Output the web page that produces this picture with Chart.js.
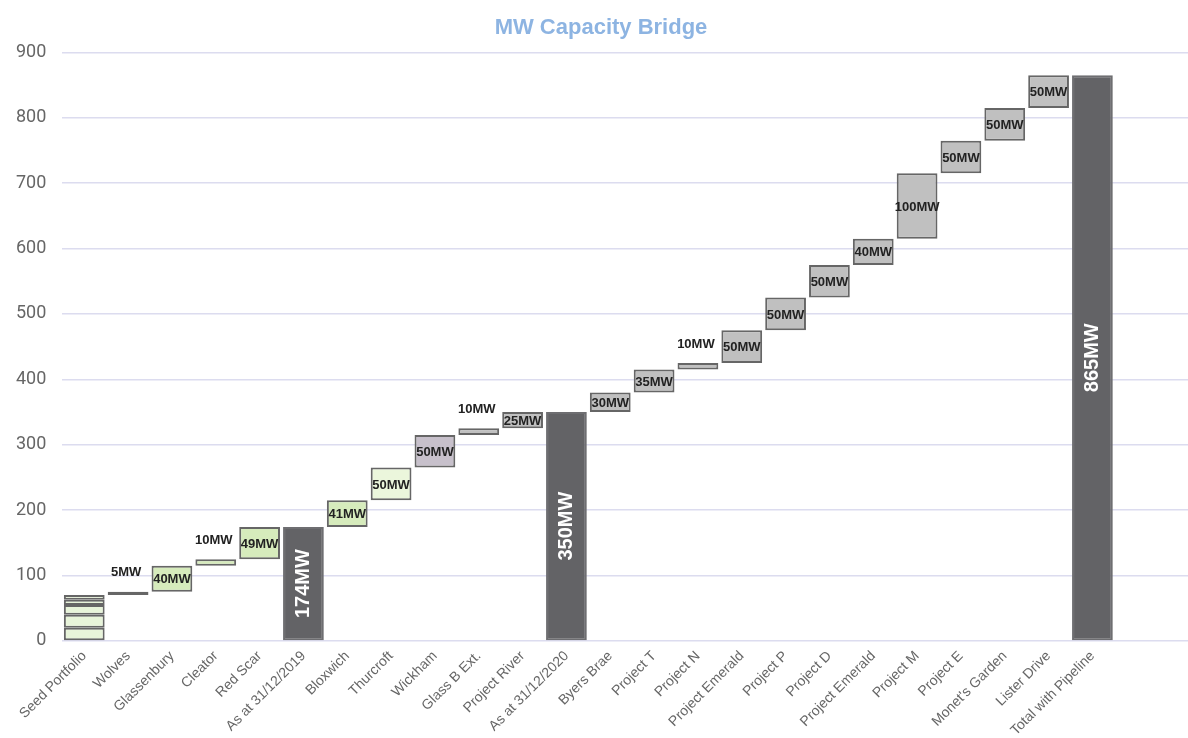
<!DOCTYPE html>
<html>
<head>
<meta charset="utf-8">
<title>MW Capacity Bridge</title>
<script src="https://cdn.jsdelivr.net/npm/chart.js@4/dist/chart.umd.min.js"></script>
<style>
  html, body { margin: 0; padding: 0; background: #fff; overflow: hidden; }
  #wrap { width: 1202px; height: 738px; }
</style>
</head>
<body>
<div id="wrap"><canvas id="myChart" width="1202" height="738"></canvas></div>
<script>
// categories of the bridge (two blank slots at the end, as in the original)
const categorias = [
  "Seed Portfolio", "Wolves", "Glassenbury", "Cleator", "Red Scar", "As at 31/12/2019",
  "Bloxwich", "Thurcroft", "Wickham", "Glass B Ext.", "Project River", "As at 31/12/2020",
  "Byers Brae", "Project T", "Project N", "Project Emerald", "Project P", "Project D",
  "Project Emerald", "Project M", "Project E", "Monet's Garden", "Lister Drive",
  "Total with Pipeline", "", ""
];
// MW added by each step, null = subtotal bar
const incrementos = [
  70, 5, 40, 10, 49, null,
  41, 50, 50, 10, 25, null,
  30, 35, 10, 50, 50, 50, 40, 100, 50, 50, 50, null
];
// the seed portfolio bar is split into sites
const segmentosSeed = [20, 20, 15, 8, 7];
const yTicks = [0, 100, 200, 300, 400, 500, 600, 700, 800, 900];

// colours per category (style only)
const colores = [
  "#e8f4da", "#d6ebbc", "#d6ebbc", "#d6ebbc", "#d6ebbc", "#636366",
  "#d6ebbc", "#ebf6dc", "#c7c0cb", "#c0c0c0", "#c0c0c0", "#636366",
  "#c0c0c0", "#c0c0c0", "#c0c0c0", "#c0c0c0", "#c0c0c0", "#c0c0c0",
  "#c0c0c0", "#c0c0c0", "#c0c0c0", "#c0c0c0", "#c0c0c0", "#636366"
];

// build floating bars from the running total
let acumulado = 0;
const barras = [];
const etiquetas = [];
const esTotal = [];
incrementos.forEach((inc, i) => {
  if (i === 0) {
    barras.push(null);
    etiquetas.push("");
    esTotal.push(false);
    acumulado += inc;
  } else if (inc === null) {
    barras.push([0, acumulado]);
    etiquetas.push(acumulado + "MW");
    esTotal.push(true);
  } else {
    barras.push([acumulado, acumulado + inc]);
    etiquetas.push(inc + "MW");
    esTotal.push(false);
    acumulado += inc;
  }
});

const bordeGris = "#666666";
const datasets = [];
let base = 0;
segmentosSeed.forEach((seg, k) => {
  const data = categorias.map((c, i) => (i === 0 ? [base, base + seg] : null));
  base += seg;
  datasets.push({
    label: "Seed " + (k + 1),
    data,
    backgroundColor: colores[0],
    borderColor: bordeGris,
    borderWidth: 2,
    borderSkipped: false,
    grouped: false,
    barPercentage: 0.93,
    categoryPercentage: 1
  });
});
datasets.push({
  label: "Bridge",
  data: barras,
  backgroundColor: colores,
  borderColor: esTotal.map((t) => (t ? "#6e6e71" : bordeGris)),
  borderWidth: 2,
  borderSkipped: false,
  grouped: false,
  barPercentage: 0.93,
  categoryPercentage: 1
});

const pluginEtiquetas = {
  id: "etiquetas",
  afterDatasetsDraw(chart) {
    const ctx = chart.ctx;
    const meta = chart.getDatasetMeta(datasets.length - 1);
    meta.data.forEach((bar, i) => {
      if (!barras[i]) return;
      const texto = etiquetas[i];
      const top = Math.min(bar.y, bar.base);
      const alto = Math.abs(bar.base - bar.y);
      ctx.save();
      ctx.textAlign = "center";
      ctx.textBaseline = "middle";
      if (esTotal[i]) {
        ctx.translate(bar.x, top + alto / 2);
        ctx.rotate(-Math.PI / 2);
        ctx.fillStyle = "#ffffff";
        ctx.font = "bold 20px 'Liberation Sans', Arial, sans-serif";
        ctx.fillText(texto, 0, 0);
      } else if (alto >= 12) {
        ctx.fillStyle = "#222222";
        ctx.font = "bold 13px 'Liberation Sans', Arial, sans-serif";
        ctx.fillText(texto, bar.x, top + alto / 2 + 1);
      } else {
        ctx.fillStyle = "#222222";
        ctx.font = "bold 13px 'Liberation Sans', Arial, sans-serif";
        ctx.fillText(texto, bar.x - 2, top - 19);
      }
      ctx.restore();
    });
  }
};

const config = {
  type: "bar",
  data: { labels: categorias, datasets },
  options: {
    responsive: false,
    animation: false,
    layout: { padding: { top: 4, left: 0, right: 0, bottom: 0 } },
    plugins: {
      legend: { display: false },
      tooltip: { enabled: false },
      title: {
        display: true,
        text: "MW Capacity Bridge",
        color: "#8db4e2",
        font: { size: 22, weight: "bold", family: "'Liberation Sans', Arial, sans-serif" },
        padding: { top: 11, bottom: 11 }
      }
    },
    scales: {
      x: {
        grid: { display: false },
        border: { display: false },
        ticks: {
          color: "#666666",
          maxRotation: 45,
          minRotation: 45,
          autoSkip: false,
          padding: -1,
          font: { size: 14, family: "'Liberation Sans', Arial, sans-serif" }
        }
      },
      y: {
        min: 0,
        max: 900,
        afterBuildTicks(axis) {
          axis.ticks = yTicks.map((v) => ({ value: v }));
        },
        grid: { color: "#dcdcef", lineWidth: 1.5, drawTicks: false },
        border: { display: false },
        ticks: {
          color: "#666666",
          padding: 16,
          font: { size: 18, family: "Roboto, 'Liberation Sans', sans-serif" }
        }
      }
    }
  },
  plugins: [pluginEtiquetas]
};

new Chart(document.getElementById("myChart"), config);
</script>
</body>
</html>
